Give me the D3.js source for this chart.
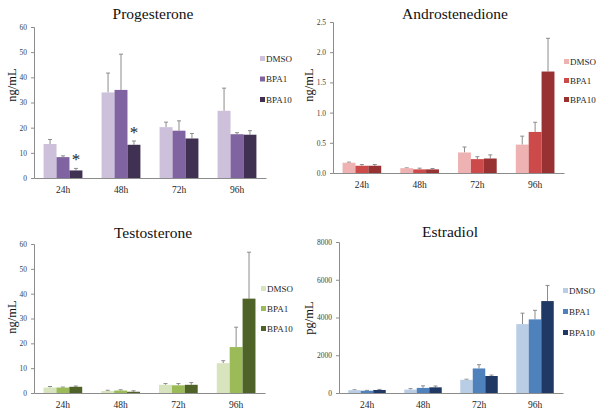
<!DOCTYPE html>
<html>
<head>
<meta charset="utf-8">
<script src="https://cdn.jsdelivr.net/npm/d3@7"></script>
<style>
  body { margin: 0; background: #fff; }
  svg text { font-family: "Times New Roman", "Liberation Serif", Times, serif !important; }
</style>
</head>
<body>
<div id="chart"></div>
<script>
// data
var times = ["24h", "48h", "72h", "96h"];
var groups = ["DMSO", "BPA1", "BPA10"];

var progMean = [[13.5, 8.3, 3.0], [34, 35, 13.2], [20.2, 18.8, 15.7], [26.7, 17.4, 17.2]];
var progErr = [[1.8, 0.5, 0.8], [7.7, 14.2, 1.5], [2.0, 3.9, 2.0], [9.0, 0.6, 1.6]];
var progSig = [[0, 0, 1], [0, 0, 1], [0, 0, 0], [0, 0, 0]];

var andrMean = [[0.17, 0.12, 0.12], [0.08, 0.06, 0.06], [0.34, 0.23, 0.24], [0.47, 0.68, 1.68]];
var andrErr = [[0.01, 0.02, 0.02], [0.005, 0.02, 0.015], [0.09, 0.04, 0.06], [0.14, 0.16, 0.55]];

var testMean = [[2.2, 2.2, 2.5], [0.8, 1.0, 0.5], [3.3, 3.1, 3.3], [12, 18.5, 38]];
var testErr = [[0.4, 0.2, 0.3], [0.3, 0.3, 0.4], [0.5, 0.7, 0.9], [1.0, 8.0, 18.7]];

var estrMean = [[150, 120, 160], [180, 270, 300], [700, 1300, 900], [3650, 3900, 4870]];
var estrErr = [[20, 20, 30], [50, 110, 70], [30, 200, 50], [580, 480, 830]];

var progTicks = [0, 10, 20, 30, 40, 50, 60];
var andrTicks = [0, 0.5, 1.0, 1.5, 2.0, 2.5];
var testTicks = [0, 10, 20, 30, 40, 50, 60];
var estrTicks = [0, 2000, 4000, 6000, 8000];

var svg = d3.select("#chart").append("svg")
  .attr("width", 602)
  .attr("height", 415);

function drawPanel(p) {
  var g = svg.append("g");

  var x = d3.scaleBand().domain(times).range([p.x0, p.x1]).paddingInner(0).paddingOuter(0);
  var xs = d3.scaleBand().domain(groups).range([0, x.bandwidth()]).paddingInner(0).paddingOuter(0.74);
  var y = d3.scaleLinear().domain([0, p.max]).range([p.y1, p.y0]);

  // y axis
  var yAxis = d3.axisLeft(y).tickValues(p.ticks).tickSize(3).tickSizeOuter(3).tickPadding(4).tickFormat(p.fmt);
  var yg = g.append("g").attr("transform", "translate(" + p.x0 + ",0)").call(yAxis);
  yg.attr("font-family", null);
  yg.selectAll("path, line").attr("stroke", "#8c8c8c");
  yg.selectAll("text")
    .style("font-size", "7.5px")
    .attr("fill", "#404040");

  // x axis
  var xAxis = d3.axisBottom(x).tickSize(0).tickPadding(8);
  var xg = g.append("g").attr("transform", "translate(0," + p.y1 + ")").call(xAxis);
  xg.attr("font-family", null);
  xg.select("path").attr("stroke", "#8c8c8c");
  xg.selectAll("text")
    .style("font-size", "9.5px")
    .attr("fill", "#262626");

  // bars
  var rows = [];
  p.mean.forEach(function(r, i) {
    r.forEach(function(v, j) {
      rows.push({ t: times[i], s: groups[j], v: v, e: p.err[i][j], sig: p.sig ? p.sig[i][j] : 0, j: j });
    });
  });

  g.selectAll(".err")
    .data(rows)
    .enter()
    .append("path")
    .attr("class", "err")
    .attr("d", function(d) {
      var cx = x(d.t) + xs(d.s) + xs.bandwidth() / 2;
      var top = y(d.v + d.e);
      return "M" + cx + "," + y(d.v) + "V" + top + "M" + (cx - 2) + "," + top + "H" + (cx + 2);
    })
    .attr("stroke", "#8c8c8c")
    .attr("stroke-width", 1)
    .attr("fill", "none");

  g.selectAll(".bar")
    .data(rows)
    .enter()
    .append("rect")
    .attr("class", "bar")
    .attr("x", function(d) { return x(d.t) + xs(d.s); })
    .attr("y", function(d) { return y(d.v); })
    .attr("width", xs.bandwidth())
    .attr("height", function(d) { return p.y1 - y(d.v); })
    .style("fill", function(d) { return p.colors[d.j]; });

  // significance stars
  g.selectAll(".star")
    .data(rows.filter(function(d) { return d.sig; }))
    .enter()
    .append("text")
    .attr("class", "star")
    .attr("x", function(d) { return x(d.t) + xs(d.s) + xs.bandwidth() / 2; })
    .attr("y", function(d) { return y(d.v + d.e) - 3; })
    .attr("text-anchor", "middle")
    .style("font-size", "17px")
    .attr("fill", "#222")
    .text("*");

  // title
  g.append("text")
    .attr("x", p.tx)
    .attr("y", p.ty)
    .attr("text-anchor", "middle")
    .style("font-size", "15.5px")
    .attr("fill", "#111")
    .text(p.title);

  // y label
  g.append("text")
    .attr("transform", "translate(" + p.lx + "," + p.ly + ") rotate(-90)")
    .attr("text-anchor", "middle")
    .style("font-size", "12.5px")
    .attr("fill", "#111")
    .text(p.unit);

  // legend
  var lg = g.selectAll(".leg")
    .data(groups)
    .enter()
    .append("g")
    .attr("transform", function(d, i) { return "translate(" + p.legX + "," + (p.legY + i * p.legDy) + ")"; });
  lg.append("rect")
    .attr("x", 0)
    .attr("y", -5)
    .attr("width", 5)
    .attr("height", 5)
    .style("fill", function(d, i) { return p.colors[i]; });
  lg.append("text")
    .attr("x", 6)
    .attr("y", 0.5)
    .style("font-size", "9px")
    .attr("fill", "#262626")
    .text(function(d) { return d; });
}

drawPanel({
  title: "Progesterone", unit: "ng/mL", mean: progMean, err: progErr, sig: progSig,
  max: 60, ticks: progTicks, fmt: d3.format("d"),
  x0: 34, x1: 266, y0: 27, y1: 178, tx: 153, ty: 19, lx: 16, ly: 85,
  legX: 260, legY: 61, legDy: 20.5,
  colors: ["#ccc0da", "#8064a2", "#403152"]
});

drawPanel({
  title: "Androstenedione", unit: "ng/mL", mean: andrMean, err: andrErr,
  max: 2.5, ticks: andrTicks, fmt: d3.format(".1f"),
  x0: 333, x1: 564, y0: 22, y1: 173, tx: 455, ty: 19, lx: 313, ly: 85,
  legX: 564, legY: 64, legDy: 19,
  colors: ["#eeb2b2", "#cd4a4a", "#983232"]
});

drawPanel({
  title: "Testosterone", unit: "ng/mL", mean: testMean, err: testErr,
  max: 60, ticks: testTicks, fmt: d3.format("d"),
  x0: 34, x1: 265, y0: 244, y1: 393, tx: 153, ty: 238, lx: 16, ly: 317,
  legX: 261, legY: 291, legDy: 20,
  colors: ["#d7e4bd", "#9bbb59", "#4f6228"]
});

drawPanel({
  title: "Estradiol", unit: "pg/mL", mean: estrMean, err: estrErr,
  max: 8000, ticks: estrTicks, fmt: d3.format("d"),
  x0: 339, x1: 563, y0: 242, y1: 393, tx: 450, ty: 237, lx: 313, ly: 318,
  legX: 563, legY: 293, legDy: 21,
  colors: ["#b9cde5", "#4f81bd", "#1f3864"]
});
</script>
</body>
</html>
